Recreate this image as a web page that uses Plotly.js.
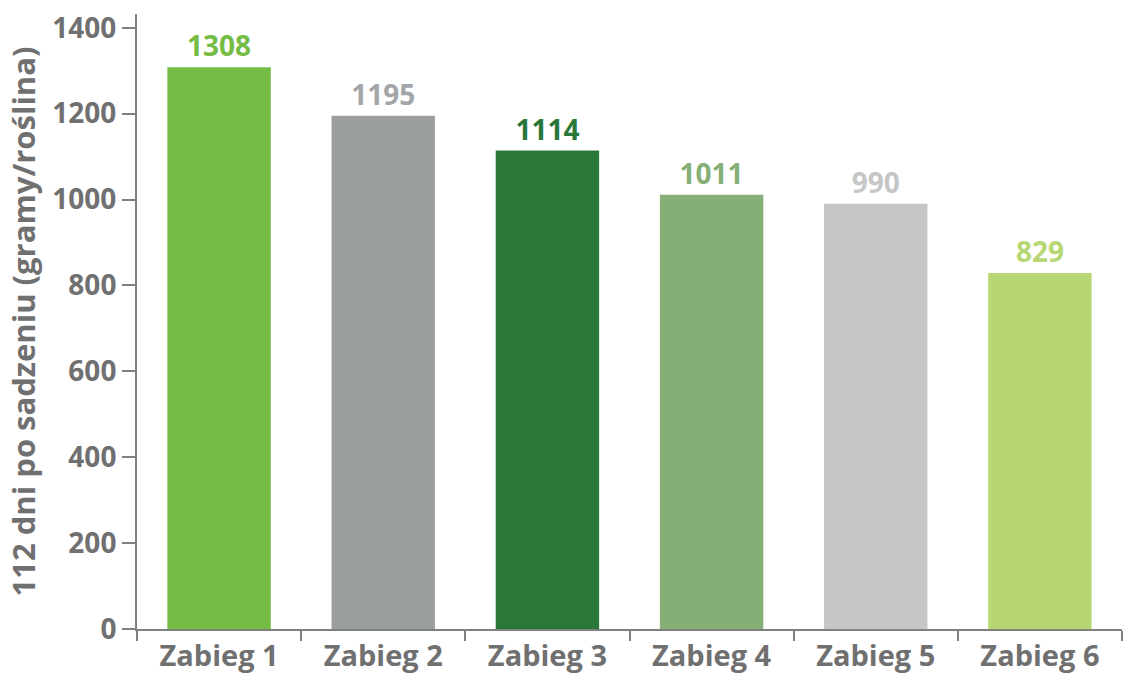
<!DOCTYPE html>
<html>
<head>
<meta charset="utf-8">
<script src="https://cdn.plot.ly/plotly-3.0.1.min.js"></script>
<style>html,body{margin:0;padding:0;background:#fff}#chart{width:1131px;height:673px}</style>
</head>
<body>
<div id="chart"></div>
<script>
var categories = ["Zabieg 1", "Zabieg 2", "Zabieg 3", "Zabieg 4", "Zabieg 5", "Zabieg 6"];
var values = [1308, 1195, 1114, 1011, 990, 829];
var barColors = ["#74BC43", "#9C9FA0", "#2A7839", "#86AE77", "#C5C7C6", "#B7D774"];
var labelColors = ["#74BC43", "#A3A5A6", "#2A7839", "#86AE77", "#C5C7C6", "#B7D774"];
var yTickVals = [0, 200, 400, 600, 800, 1000, 1200, 1400];
var yTitle = "112 dni po sadzeniu (gramy/roślina)";

var font = "'Open Sans', sans-serif";
var grey = "#707070";
var axisGrey = "#808080";

var trace = {
  type: "bar",
  x: categories,
  y: values,
  marker: {color: barColors},
  text: values.map(String),
  textposition: "outside",
  cliponaxis: false,
  textfont: {family: font, size: 28, color: labelColors, weight: 700},
  hoverinfo: "x+y"
};

var layout = {
  width: 1131,
  height: 673,
  margin: {l: 137, r: 9, t: 14, b: 44},
  paper_bgcolor: "#fff",
  plot_bgcolor: "#fff",
  bargap: 0.37,
  showlegend: false,
  font: {family: font, color: grey},
  xaxis: {
    range: [-0.5, 5.5],
    showline: true,
    linecolor: axisGrey,
    linewidth: 2,
    ticks: "outside",
    tickson: "boundaries",
    ticklen: 10,
    tickwidth: 2,
    tickcolor: axisGrey,
    showgrid: false,
    zeroline: false,
    tickfont: {family: font, size: 29, color: grey, weight: 700}
  },
  yaxis: {
    range: [0, 1432],
    tickvals: yTickVals,
    showline: true,
    linecolor: axisGrey,
    linewidth: 2,
    ticks: "outside",
    ticklen: 13,
    tickwidth: 2,
    tickcolor: axisGrey,
    showgrid: false,
    zeroline: false,
    tickfont: {family: font, size: 28, color: grey, weight: 700},
    title: {text: yTitle, font: {family: font, size: 31, color: grey, weight: 700}, standoff: 8}
  }
};

Plotly.newPlot("chart", [trace], layout, {displayModeBar: false, staticPlot: true});
</script>
</body>
</html>
